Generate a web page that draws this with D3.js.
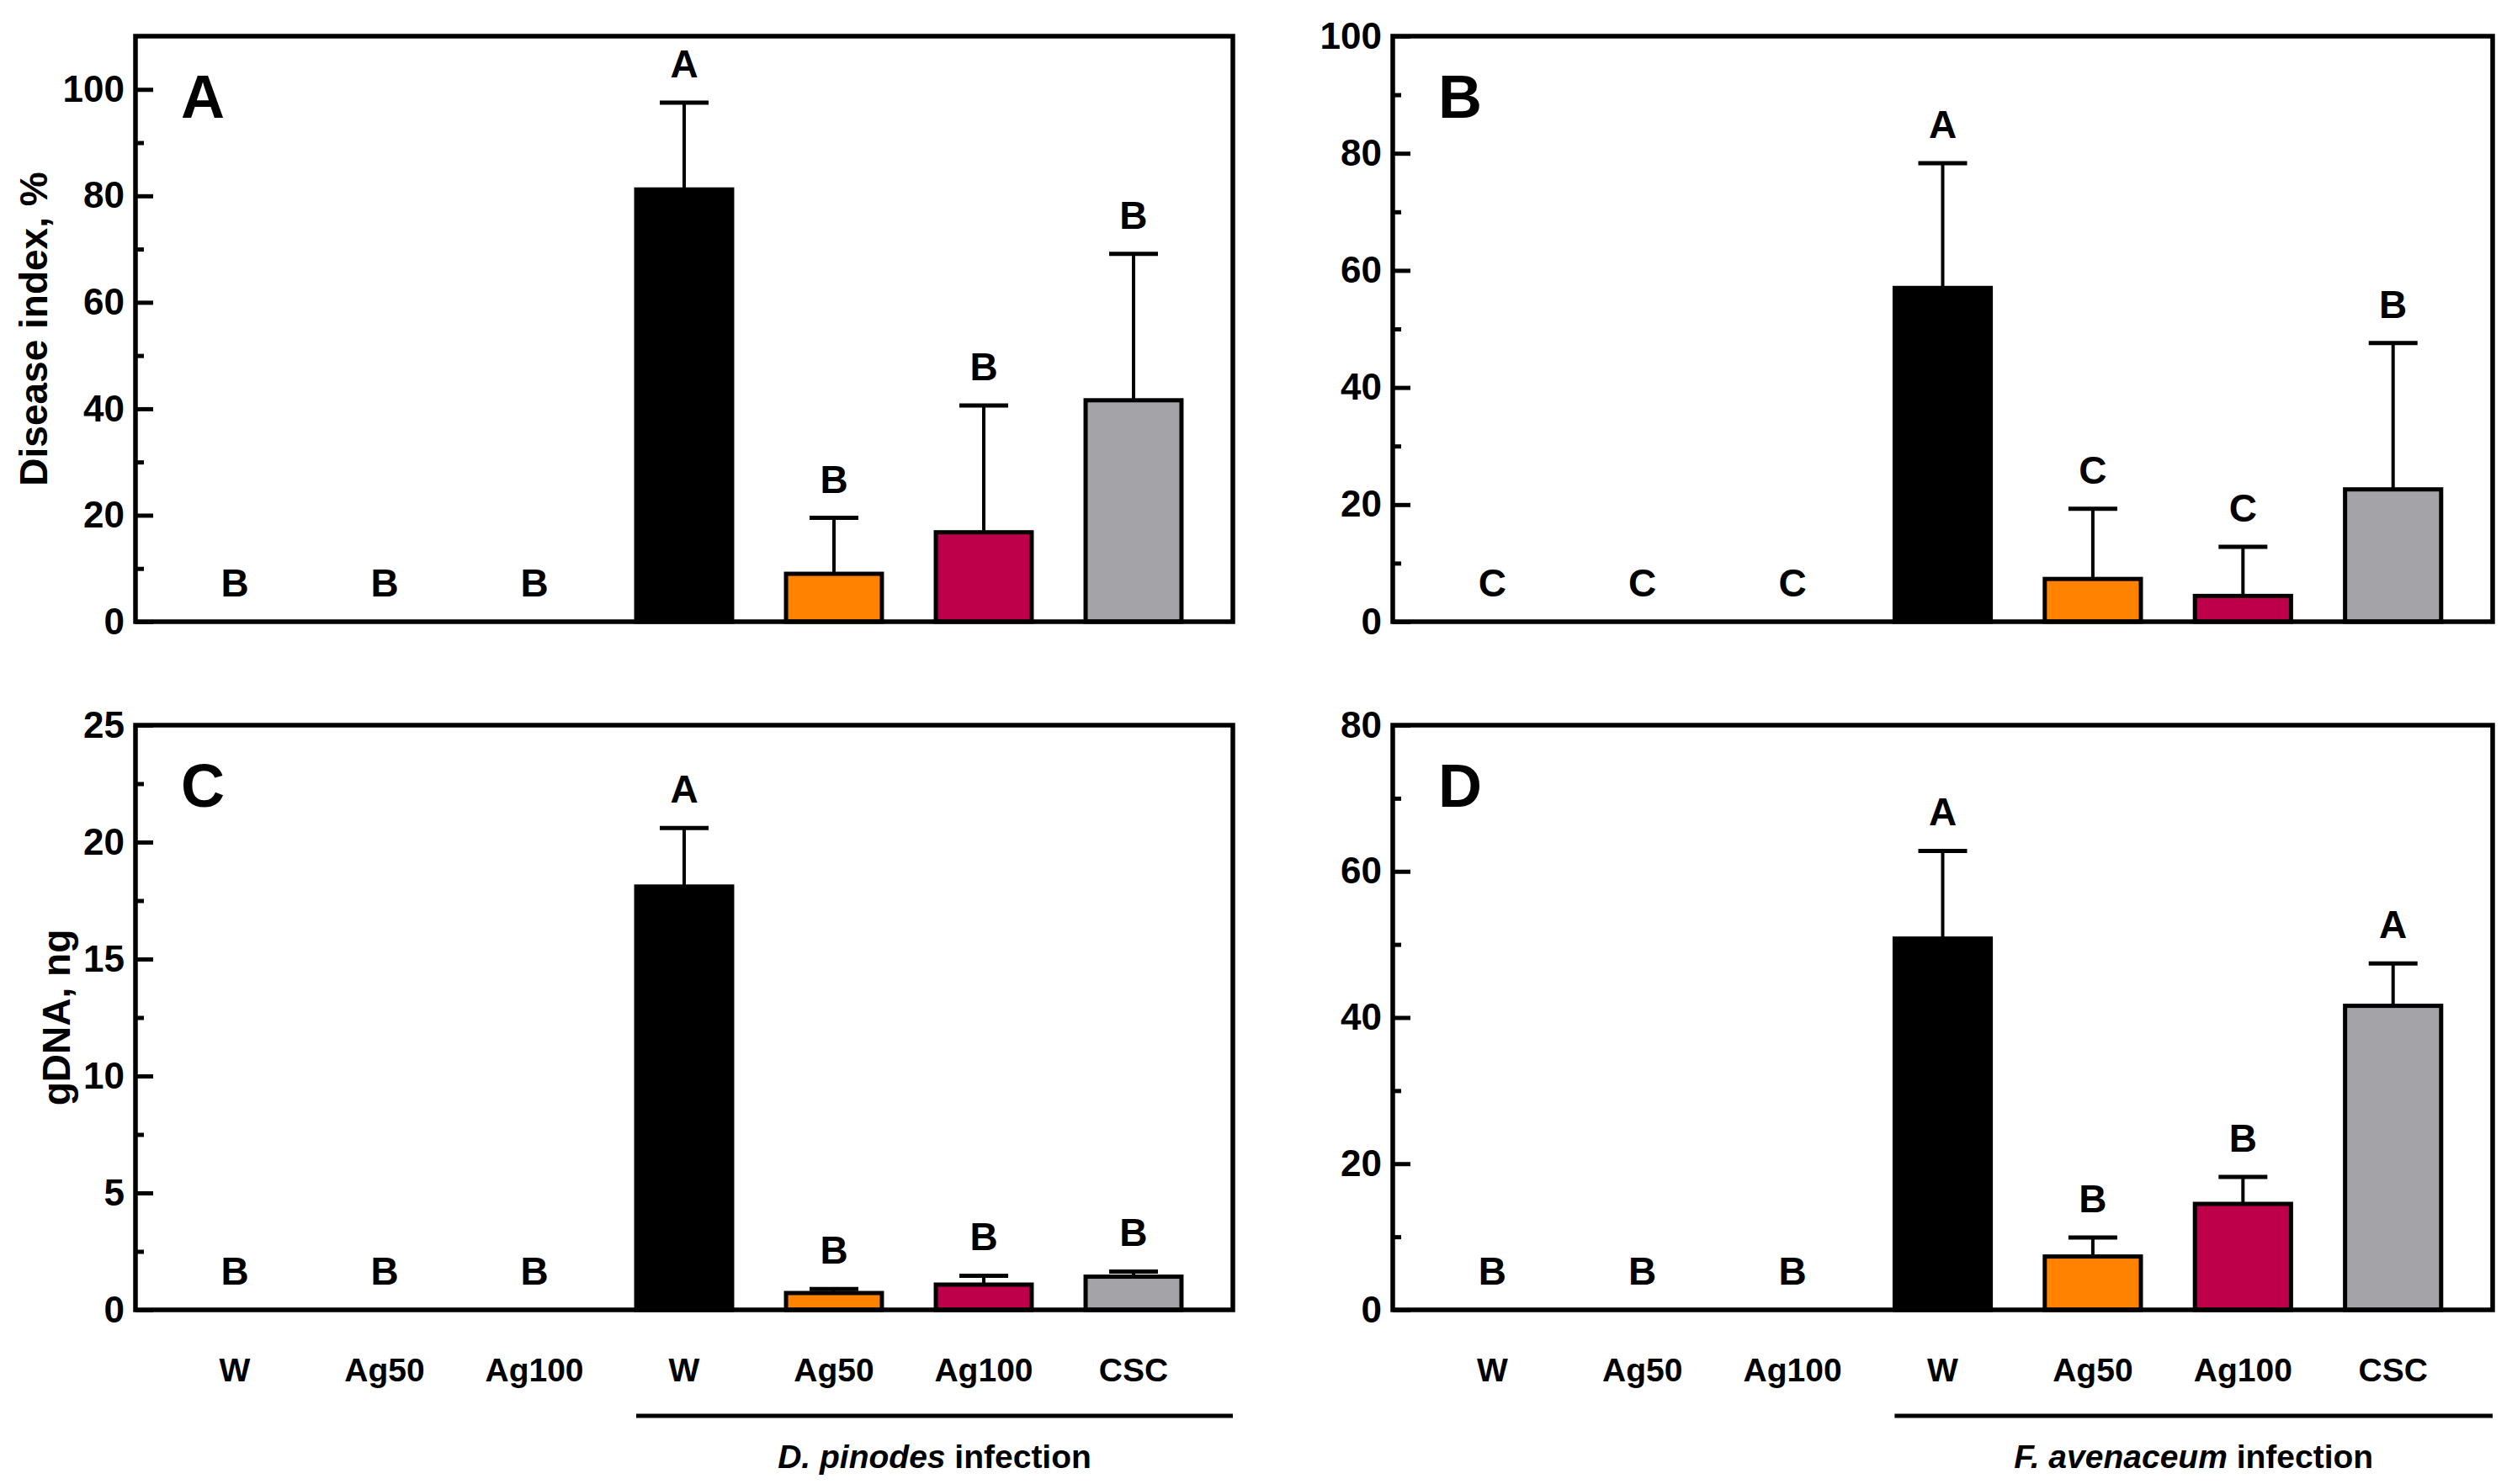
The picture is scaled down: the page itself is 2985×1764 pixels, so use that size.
<!DOCTYPE html>
<html lang="en">
<head>
<meta charset="UTF-8" />
<title>Disease index and gDNA</title>
<script src="https://d3js.org/d3.v7.min.js"></script>
<style>
  body { margin: 0; background: #fff; }
  svg text { font-family: "Liberation Sans", Arial, Helvetica, sans-serif; font-weight: bold; fill: #000; }
  .tick text { font-size: 44px; }
  .tick line { stroke: #000; stroke-width: 5px; }
</style>
</head>
<body>
<svg id="chart" width="2985" height="1764"></svg>
<script>
// categories (first three are uninfected controls)
const categories = ["W", "Ag50", "Ag100", "W", "Ag50", "Ag100", "CSC"];
const barColors = ["#000000", "#000000", "#000000", "#000000", "#ff8200", "#bd0049", "#a4a3a8"];

// A: disease index, D. pinodes
const diseaseDp = [0, 0, 0, 81.2, 9.0, 16.8, 41.6];
const diseaseDpSd = [0, 0, 0, 16.3, 10.5, 23.8, 27.5];
const diseaseDpLetters = ["B", "B", "B", "A", "B", "B", "B"];

// B: disease index, F. avenaceum
const diseaseFa = [0, 0, 0, 57.0, 7.3, 4.4, 22.6];
const diseaseFaSd = [0, 0, 0, 21.3, 12.0, 8.4, 25.0];
const diseaseFaLetters = ["C", "C", "C", "A", "C", "C", "B"];

// C: gDNA, D. pinodes
const gdnaDp = [0, 0, 0, 18.1, 0.72, 1.08, 1.42];
const gdnaDpSd = [0, 0, 0, 2.5, 0.17, 0.38, 0.22];
const gdnaDpLetters = ["B", "B", "B", "A", "B", "B", "B"];

// D: gDNA, F. avenaceum
const gdnaFa = [0, 0, 0, 50.8, 7.3, 14.5, 41.6];
const gdnaFaSd = [0, 0, 0, 12.0, 2.6, 3.7, 5.8];
const gdnaFaLetters = ["B", "B", "B", "A", "B", "B", "A"];

const svg = d3.select("#chart");

const panels = [
  { tag: "A", values: diseaseDp, sd: diseaseDpSd, letters: diseaseDpLetters,
    max: 110, step: 20, ylabel: "Disease index, %", x0: 161, x1: 1465, y0: 43, y1: 739, labelX: 40 },
  { tag: "B", values: diseaseFa, sd: diseaseFaSd, letters: diseaseFaLetters,
    max: 100, step: 20, ylabel: null, x0: 1655, x1: 2962, y0: 43, y1: 739 },
  { tag: "C", values: gdnaDp, sd: gdnaDpSd, letters: gdnaDpLetters,
    max: 25, step: 5, ylabel: "gDNA, ng", x0: 161, x1: 1465, y0: 862, y1: 1557, labelX: 67,
    group: ["D. pinodes", " infection"] },
  { tag: "D", values: gdnaFa, sd: gdnaFaSd, letters: gdnaFaLetters,
    max: 80, step: 20, ylabel: null, x0: 1655, x1: 2962, y0: 862, y1: 1557,
    group: ["F. avenaceum", " infection"] }
];

panels.forEach(function(p) {
  const w = p.x1 - p.x0, h = p.y1 - p.y0;
  const g = svg.append("g").attr("transform", "translate(" + p.x0 + "," + p.y0 + ")");

  const x = d3.scaleBand().domain(d3.range(categories.length)).range([0, w])
    .paddingInner(0.36).paddingOuter(0.343);
  const y = d3.scaleLinear().domain([0, p.max]).range([h, 0]);

  const majors = d3.range(0, p.max + 1e-9, p.step);
  const minors = d3.range(p.step / 2, p.max - 1e-9, p.step);

  // minor ticks
  g.append("g")
    .call(d3.axisLeft(y).tickValues(minors).tickSize(-10).tickFormat(""))
    .call(a => a.select(".domain").remove());

  // major ticks
  g.append("g")
    .call(d3.axisLeft(y).tickValues(majors).tickSize(-21).tickPadding(13).tickFormat(d3.format("d")))
    .call(a => a.select(".domain").remove());

  // bars
  const idx = d3.range(categories.length).filter(i => p.values[i] > 0);
  g.selectAll(".bar").data(idx).enter().append("rect")
    .attr("class", "bar")
    .attr("x", i => x(i))
    .attr("y", i => y(p.values[i]))
    .attr("width", x.bandwidth())
    .attr("height", i => y(0) - y(p.values[i]))
    .attr("fill", i => barColors[i])
    .attr("stroke", "#000")
    .attr("stroke-width", 5);

  // error bars (upper only)
  const cx = i => x(i) + x.bandwidth() / 2;
  g.selectAll(".err").data(idx).enter().append("line")
    .attr("x1", cx).attr("x2", cx)
    .attr("y1", i => y(p.values[i]))
    .attr("y2", i => y(p.values[i] + p.sd[i]))
    .attr("stroke", "#000").attr("stroke-width", 4);
  g.selectAll(".cap").data(idx).enter().append("line")
    .attr("x1", i => cx(i) - 29).attr("x2", i => cx(i) + 29)
    .attr("y1", i => y(p.values[i] + p.sd[i]))
    .attr("y2", i => y(p.values[i] + p.sd[i]))
    .attr("stroke", "#000").attr("stroke-width", 5);

  // significance letters
  g.selectAll(".sig").data(d3.range(categories.length)).enter().append("text")
    .attr("x", cx)
    .attr("y", i => y(p.values[i] + p.sd[i]) - 30)
    .attr("text-anchor", "middle")
    .style("font-size", "46px")
    .text(i => p.letters[i]);

  // frame
  g.append("rect").attr("width", w).attr("height", h)
    .attr("fill", "none").attr("stroke", "#000").attr("stroke-width", 5.5);

  // panel tag
  g.append("text").attr("x", 54).attr("y", 97)
    .style("font-size", "72px").text(p.tag);

  if (p.ylabel) {
    svg.append("text")
      .attr("transform", "translate(" + (p.labelX + 16) + "," + (p.y0 + h / 2) + ") rotate(-90)")
      .attr("text-anchor", "middle")
      .style("font-size", "46px")
      .text(p.ylabel);
  }

  if (p.group) {
    // category labels
    g.selectAll(".cat").data(d3.range(categories.length)).enter().append("text")
      .attr("x", cx).attr("y", h + 85)
      .attr("text-anchor", "middle")
      .style("font-size", "39px")
      .text(i => categories[i]);

    const gx0 = x(3);
    g.append("line").attr("x1", gx0).attr("x2", w)
      .attr("y1", h + 126).attr("y2", h + 126)
      .attr("stroke", "#000").attr("stroke-width", 5);

    const t = g.append("text").attr("x", (gx0 + w) / 2).attr("y", h + 188)
      .attr("text-anchor", "middle").style("font-size", "39px");
    t.append("tspan").style("font-style", "italic").text(p.group[0]);
    t.append("tspan").text(p.group[1]);
  }
});
</script>
</body>
</html>
